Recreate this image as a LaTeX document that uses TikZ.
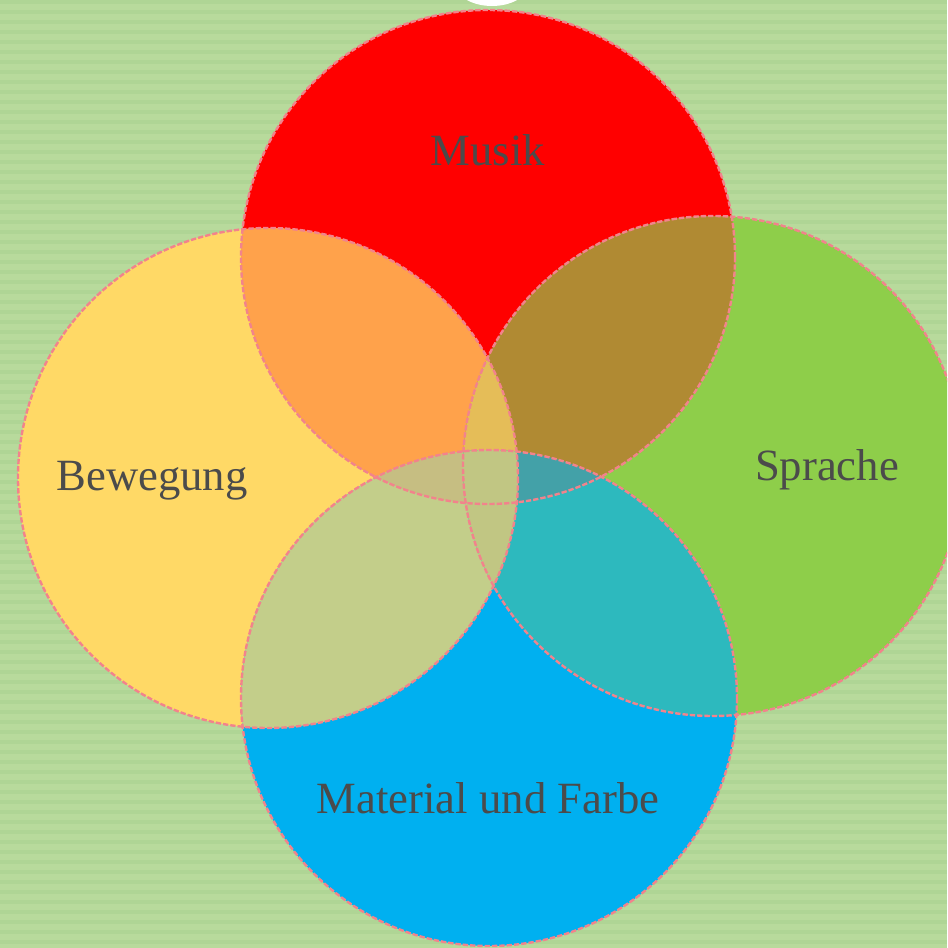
\documentclass[tikz,border=0pt]{standalone}
\usepackage{fontspec}
\setmainfont{Liberation Serif}

\definecolor{bgGreen}{HTML}{B8DA9C}
\definecolor{bgStripe}{HTML}{AFD595}
\definecolor{cRed}{HTML}{FF0000}
\definecolor{cYellow}{HTML}{FFD966}
\definecolor{cGreen}{HTML}{8ECE4A}
\definecolor{cBlue}{HTML}{00B0F0}
\definecolor{cOrange}{HTML}{FFA24B}
\definecolor{cOlive}{HTML}{B08A33}
\definecolor{cSage}{HTML}{C3CE8A}
\definecolor{cTeal}{HTML}{2DB9BE}
\definecolor{cMustard}{HTML}{E5BD58}
\definecolor{cTan}{HTML}{C6BE82}
\definecolor{cPetrol}{HTML}{43A1A8}
\definecolor{cMid}{HTML}{C1C683}
\definecolor{rimPink}{HTML}{F2838C}
\definecolor{labelGray}{HTML}{4B4B4B}

\tikzset{every picture/.style={line width=0.75pt}}

\def\circR{(488,257) circle (247)}
\def\circY{(268,478) circle (250)}
\def\circG{(713,466) circle (250)}
\def\circB{(489,698) circle (248)}

\begin{document}
\begin{tikzpicture}[x=0.75pt,y=0.75pt,yscale=-1,xscale=1,
  rim/.style={draw=rimPink,line width=1.8pt,dash pattern=on 4pt off 1.5pt},
  lbl/.style={text=labelGray,inner sep=0.75pt,font=\fontsize{33.5}{40}\selectfont}]
\useasboundingbox (0,0) rectangle (947,948);
\begin{scope}
\clip (0,0) rectangle (947,948);

%Background
\fill [bgGreen] (0,0) rectangle (947,948);
\foreach \yy in {0,10,...,940}
  \fill [bgStripe] (0,\yy) rectangle (947,\yy+4);
%white cap at the top
\fill [white] (492,-14) ellipse (35 and 20);

%Circles
\fill [cRed] \circR;
\fill [cYellow] \circY;
\fill [cGreen] \circG;
\fill [cBlue] \circB;

%Overlaps of two
\begin{scope} \clip \circR; \fill [cOrange] \circY; \end{scope}
\begin{scope} \clip \circR; \fill [cOlive] \circG; \end{scope}
\begin{scope} \clip \circY; \fill [cSage] \circB; \end{scope}
\begin{scope} \clip \circG; \fill [cTeal] \circB; \end{scope}

%Overlaps of three
\begin{scope} \clip \circR; \clip \circY; \fill [cMustard] \circG; \end{scope}
\begin{scope} \clip \circR; \clip \circB; \fill [cTan] \circY; \end{scope}
\begin{scope} \clip \circR; \clip \circB; \fill [cPetrol] \circG; \end{scope}
\begin{scope} \clip \circY; \clip \circG; \fill [cMid] \circB; \end{scope}

%Rims
\draw [rim] \circR;
\draw [rim] \circY;
\draw [rim] \circG;
\draw [rim] \circB;
\end{scope}

% Text Node
\node (musik) [lbl,anchor=base] at (488,166) {Musik};
% Text Node
\node (bewegung) [lbl,anchor=base] at (152,490) {Bewegung};
% Text Node
\node (sprache) [lbl,anchor=base] at (827,480) {Sprache};
% Text Node
\node (material) [lbl,anchor=base] at (488,813) {Material und Farbe};
\end{tikzpicture}
\end{document}
